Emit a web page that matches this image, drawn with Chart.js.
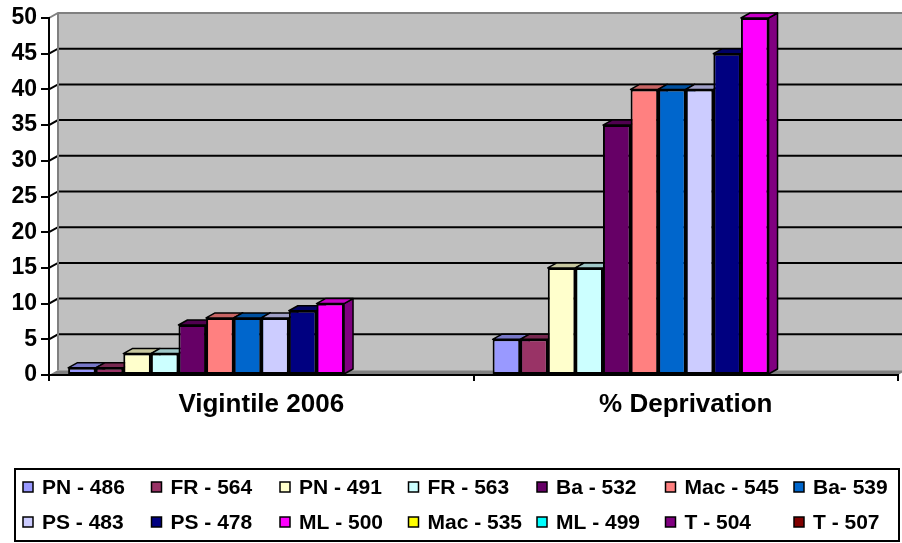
<!DOCTYPE html>
<html>
<head>
<meta charset="utf-8">
<script src="https://cdn.jsdelivr.net/npm/chart.js@4.4.1/dist/chart.umd.min.js"></script>
<style>
  html, body { margin: 0; padding: 0; background: #fff; }
  #wrap { width: 902px; height: 543px; }
</style>
</head>
<body>
<div id="wrap"><canvas id="chart" width="902" height="543"></canvas></div>
<script>
const categories = ['Vigintile 2006', '% Deprivation'];
const seriesLabels = ['PN - 486', 'FR - 564', 'PN - 491', 'FR - 563', 'Ba - 532', 'Mac - 545', 'Ba- 539',
                      'PS - 483', 'PS - 478', 'ML - 500', 'Mac - 535', 'ML - 499', 'T - 504', 'T - 507'];
const seriesColors = ['#9999FF', '#993366', '#FFFFCC', '#CCFFFF', '#660066', '#FF8080', '#0066CC',
                      '#CCCCFF', '#000080', '#FF00FF', '#FFFF00', '#00FFFF', '#800080', '#800000'];
// values per series for [Vigintile 2006, % Deprivation]; last four series have no bars
const vigintile   = [1, 1, 3, 3, 7, 8, 8, 8, 9, 10, null, null, null, null];
const deprivation = [5, 5, 15, 15, 35, 40, 40, 40, 45, 50, null, null, null, null];
const yMax = 50;
const yStep = 5;

const FONT = '"Liberation Sans", Arial, sans-serif';
const DX = 9, DY = -5; // depth offset of the 3D look

function shade(hex, f) {
    const n = parseInt(hex.slice(1), 16);
    const r = Math.round(((n >> 16) & 255) * f);
    const g = Math.round(((n >> 8) & 255) * f);
    const b = Math.round((n & 255) * f);
    return `rgb(${r},${g},${b})`;
}

// back wall, gridlines and floor
const wallPlugin = {
    id: 'wall',
    beforeDraw(chart) {
        const ctx = chart.ctx;
        const a = chart.chartArea;
        const y = chart.scales.y;
        const W = chart.width;
        ctx.save();
        ctx.fillStyle = '#C0C0C0';
        ctx.fillRect(a.left + DX, a.top + DY, W - a.left - DX, a.bottom - a.top);

        // floor
        ctx.fillStyle = '#808080';
        ctx.beginPath();
        ctx.moveTo(a.left, a.bottom);
        ctx.lineTo(a.left + DX, a.bottom + DY);
        ctx.lineTo(a.right + DX, a.bottom + DY);
        ctx.lineTo(a.right, a.bottom);
        ctx.closePath();
        ctx.fill();
        ctx.strokeStyle = '#A0A0A0';
        ctx.lineWidth = 1;
        ctx.beginPath();
        ctx.moveTo(a.left + DX, a.bottom + DY + 0.5);
        ctx.lineTo(a.right + DX, a.bottom + DY + 0.5);
        ctx.stroke();

        // gridlines on the wall plus connectors to the front axis
        y.ticks.forEach(t => {
            const py = y.getPixelForValue(t.value);
            if (t.value === 0) return;
            const edge = t.value === yMax;
            ctx.strokeStyle = edge ? '#808080' : '#000';
            ctx.lineWidth = 2;
            ctx.beginPath();
            ctx.moveTo(a.left, py);
            ctx.lineTo(a.left + DX, py + DY);
            ctx.lineTo(W, py + DY);
            ctx.stroke();
        });

        // wall left edge
        ctx.strokeStyle = '#808080';
        ctx.lineWidth = 2;
        ctx.beginPath();
        ctx.moveTo(a.left + DX, a.top + DY);
        ctx.lineTo(a.left + DX, a.bottom + DY);
        ctx.stroke();
        ctx.restore();
    }
};

// top and side faces of the bars
const bar3dPlugin = {
    id: 'bar3d',
    beforeDatasetsDraw(chart) {
        const ctx = chart.ctx;
        ctx.save();
        ctx.strokeStyle = '#000';
        ctx.lineWidth = 1.5;
        ctx.lineJoin = 'round';
        chart.data.datasets.forEach((ds, i) => {
            const meta = chart.getDatasetMeta(i);
            meta.data.forEach((bar, j) => {
                if (ds.data[j] === null) return;
                const p = bar.getProps(['x', 'y', 'base', 'width'], true);
                const l = p.x - p.width / 2, r = p.x + p.width / 2;
                // side
                ctx.fillStyle = shade(ds.backgroundColor, 0.5);
                ctx.beginPath();
                ctx.moveTo(r, p.y);
                ctx.lineTo(r + DX, p.y + DY);
                ctx.lineTo(r + DX, p.base + DY);
                ctx.lineTo(r, p.base);
                ctx.closePath();
                ctx.fill();
                ctx.stroke();
                // top
                ctx.fillStyle = shade(ds.backgroundColor, 0.78);
                ctx.beginPath();
                ctx.moveTo(l, p.y);
                ctx.lineTo(l + DX, p.y + DY);
                ctx.lineTo(r + DX, p.y + DY);
                ctx.lineTo(r, p.y);
                ctx.closePath();
                ctx.fill();
                ctx.stroke();
            });
        });
        ctx.restore();
    }
};

// boxed legend laid out as a grid
const legendPlugin = {
    id: 'gridLegend',
    afterDraw(chart) {
        const ctx = chart.ctx;
        const cols = 7;
        const x0 = 23, colW = 128.5, rows = [487, 522];
        ctx.save();
        ctx.strokeStyle = '#000';
        ctx.lineWidth = 2;
        ctx.strokeRect(15, 469, 884, 72);
        ctx.font = 'bold 21px ' + FONT;
        ctx.textBaseline = 'middle';
        ctx.textAlign = 'left';
        chart.data.datasets.forEach((ds, i) => {
            const x = x0 + (i % cols) * colW;
            const y = rows[Math.floor(i / cols)];
            ctx.fillStyle = ds.backgroundColor;
            ctx.fillRect(x, y - 5, 10, 10);
            ctx.lineWidth = 1.5;
            ctx.strokeRect(x, y - 5, 10, 10);
            ctx.fillStyle = '#000';
            ctx.fillText(ds.label, x + 19, y + 1);
        });
        ctx.restore();
    }
};

const datasets = seriesLabels.map((label, i) => ({
    label: label,
    data: [vigintile[i], deprivation[i]],
    backgroundColor: seriesColors[i],
    borderColor: '#000',
    borderWidth: 2,
    borderSkipped: false,
    barPercentage: 1,
    categoryPercentage: 0.91
}));

new Chart(document.getElementById('chart'), {
    type: 'bar',
    data: { labels: categories, datasets: datasets },
    plugins: [wallPlugin, bar3dPlugin, legendPlugin],
    options: {
        responsive: false,
        animation: false,
        layout: { padding: { top: 18, right: 4, left: 0, bottom: 0 } },
        plugins: {
            legend: { display: false },
            tooltip: { enabled: false }
        },
        scales: {
            x: {
                afterFit: s => { s.height = 168; },
                grid: { offset: true, drawOnChartArea: false, tickLength: 6, color: '#000', lineWidth: 2 },
                border: { display: true, color: '#000', width: 2 },
                ticks: { color: '#000', padding: 8, font: { family: FONT, size: 26, weight: 'bold' } }
            },
            y: {
                min: 0,
                max: yMax,
                afterFit: s => { s.width = 49; },
                grid: { drawOnChartArea: false, tickLength: 8, color: '#000', lineWidth: 2 },
                border: { display: true, color: '#000', width: 2 },
                ticks: { stepSize: yStep, color: '#000', padding: 4, font: { family: FONT, size: 23, weight: 'bold' } }
            }
        }
    }
});
</script>
</body>
</html>
